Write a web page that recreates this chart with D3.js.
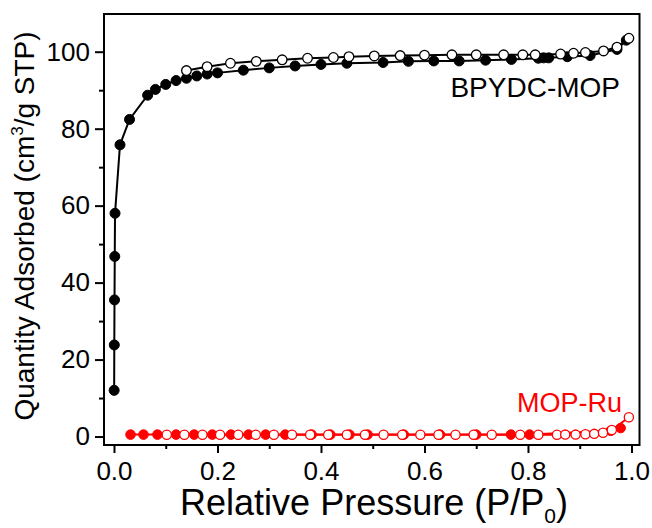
<!DOCTYPE html>
<html><head><meta charset="utf-8">
<script src="https://cdn.jsdelivr.net/npm/d3@7"></script>
<style>body{margin:0;background:#fff}svg{display:block}text{font-family:"Liberation Sans",Arial,sans-serif}</style>
</head><body>
<svg id="c" width="652" height="528"></svg>
<script>
// BPYDC-MOP adsorption (filled)
const bpAdsP = [0.0003,0.0006,0.001,0.0015,0.002,0.0116,0.030,0.065,0.080,0.10,0.12,0.14,0.16,0.18,0.20,0.25,0.30,0.35,0.40,0.45,0.52,0.569,0.618,0.667,0.718,0.768,0.820,0.830,0.840,0.876,0.92,0.972,0.99];
const bpAdsQ = [12.0,23.8,35.5,46.8,58.0,75.8,82.4,88.7,90.2,91.5,92.5,93.1,93.7,94.2,94.5,95.2,95.8,96.3,96.7,97.0,97.2,97.5,97.6,97.6,97.8,98.0,98.3,98.4,98.4,98.7,99.0,100.6,103.0];
// BPYDC-MOP desorption (open)
const bpDesP = [0.14,0.18,0.225,0.275,0.325,0.374,0.424,0.454,0.503,0.553,0.60,0.653,0.70,0.753,0.79,0.814,0.863,0.888,0.911,0.946,0.972,0.995];
const bpDesQ = [95.1,96.1,97.0,97.5,97.9,98.3,98.5,98.7,98.9,99.0,99.1,99.2,99.2,99.2,99.2,99.2,99.4,99.6,99.8,100.2,101.2,103.5];
// MOP-Ru adsorption (filled)
const ruAdsP = [0.032,0.057,0.084,0.12,0.155,0.19,0.226,0.26,0.293,0.331,0.382,0.418,0.455,0.49,0.56,0.63,0.70,0.767,0.803,0.96,0.979];
const ruAdsQ = [0.5,0.5,0.5,0.5,0.5,0.5,0.5,0.5,0.5,0.5,0.5,0.5,0.5,0.5,0.5,0.5,0.5,0.5,0.5,1.5,2.2];
// MOP-Ru desorption (open)
const ruDesP = [0.102,0.136,0.171,0.205,0.24,0.274,0.309,0.344,0.379,0.414,0.45,0.485,0.521,0.557,0.592,0.627,0.66,0.695,0.73,0.785,0.82,0.856,0.872,0.892,0.911,0.928,0.945,0.962,0.995];
const ruDesQ = [0.45,0.45,0.45,0.45,0.45,0.45,0.45,0.45,0.45,0.45,0.45,0.45,0.45,0.45,0.45,0.45,0.45,0.45,0.45,0.45,0.45,0.45,0.5,0.5,0.6,0.7,1.0,1.7,5.0];

const xMajor = [0,0.2,0.4,0.6,0.8,1.0];
const xMinor = [0.1,0.3,0.5,0.7,0.9];
const yMajor = [0,20,40,60,80,100];
const yMinor = [10,30,50,70,90];

const svg = d3.select("#c");
const L=104,R=639.5,T=14,B=445;
const x = d3.scaleLinear().domain([-0.0193,1.0155]).range([L,R]);
const y = d3.scaleLinear().domain([-2.2,109.8]).range([B,T]);

// axes
const gx = svg.append("g").attr("transform",`translate(0,${B})`)
  .call(d3.axisBottom(x).tickValues(xMajor).tickFormat(d3.format(".1f")).tickSize(8).tickPadding(9));
const gxm = svg.append("g").attr("transform",`translate(0,${B})`)
  .call(d3.axisBottom(x).tickValues(xMinor).tickFormat("").tickSize(4));
const gy = svg.append("g").attr("transform",`translate(${L},0)`)
  .call(d3.axisLeft(y).tickValues(yMajor).tickFormat(d3.format("d")).tickSize(9).tickPadding(5));
const gym = svg.append("g").attr("transform",`translate(${L},0)`)
  .call(d3.axisLeft(y).tickValues(yMinor).tickFormat("").tickSize(5));
[gx,gxm,gy,gym].forEach(g=>{
  g.select(".domain").remove();
  g.selectAll("line").attr("stroke","#000").attr("stroke-width",2);
  g.selectAll("text").attr("font-size",26).attr("fill","#000").attr("font-family","Liberation Sans, Arial, sans-serif");
});
gx.selectAll("text").attr("dy","0.71em");

svg.append("rect").attr("x",L).attr("y",T).attr("width",R-L).attr("height",B-T)
  .attr("fill","none").attr("stroke","#000").attr("stroke-width",2);

function series(P,Q,color,filled,r){
  const pts = P.map((p,i)=>[p,Q[i]]);
  svg.append("path").datum(pts).attr("fill","none").attr("stroke",color).attr("stroke-width",2)
    .attr("d",d3.line().x(d=>x(d[0])).y(d=>y(d[1])));
  return pts;
}
function marks(pts,color,filled,r){
  svg.append("g").selectAll("circle").data(pts).join("circle")
    .attr("cx",d=>x(d[0])).attr("cy",d=>y(d[1])).attr("r",r)
    .attr("fill",filled?color:"#fff").attr("stroke",color).attr("stroke-width",filled?1:1.3);
}
const red="#ff0000";
const a1=series(ruAdsP,ruAdsQ,red), a2=series(ruDesP,ruDesQ,red);
marks(a1,red,true,4.8); marks(a2,red,false,4.6);
const b1=series(bpAdsP,bpAdsQ,"#000"), b2=series(bpDesP,bpDesQ,"#000");
marks(b1,"#000",true,5); marks(b2,"#000",false,4.8);

// labels
svg.append("text").attr("x",620).attr("y",97).attr("text-anchor","end").attr("font-size",28).attr("fill","#000").text("BPYDC-MOP");
svg.append("text").attr("x",622).attr("y",412).attr("text-anchor","end").attr("font-size",27).attr("fill",red).text("MOP-Ru");

// x title
const xt = svg.append("text").attr("x",374).attr("y",515).attr("text-anchor","middle").attr("font-size",36).attr("fill","#000");
xt.append("tspan").text("Relative Pressure (P/P");
xt.append("tspan").attr("font-size",21).attr("dy",8).text("0");
xt.append("tspan").attr("dy",-8).text(")");

// y title
const yt = svg.append("text").attr("transform","translate(34,226) rotate(-90)").attr("text-anchor","middle").attr("font-size",28).attr("fill","#000");
yt.append("tspan").text("Quantity Adsorbed (cm");
yt.append("tspan").attr("font-size",17).attr("dy",-11).text("3");
yt.append("tspan").attr("dy",11).text("/g STP)");
</script>
</body></html>
